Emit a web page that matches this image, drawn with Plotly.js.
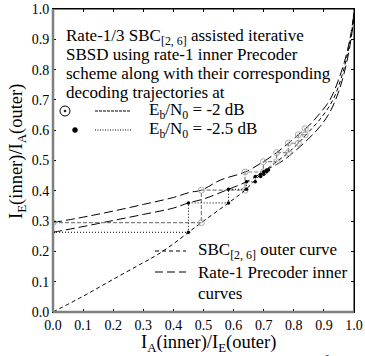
<!DOCTYPE html>
<html><head><meta charset="utf-8">
<script src="https://cdn.plot.ly/plotly-3.0.1.min.js"></script>
<style>html,body{margin:0;padding:0;background:#fff}#c{width:365px;height:356px}</style>
</head><body><div id="c"></div>
<script>
// Outer curve SBC[2,6] (x = I_E(outer), y = I_A(outer))
const outerX = [0, 0.1, 0.2, 0.3, 0.345, 0.4, 0.45, 0.493, 0.583, 0.638, 0.699, 0.743, 0.782, 0.815, 0.85, 0.887, 0.93, 0.96, 0.98, 0.993, 1.0];
const outerY = [0, 0.052, 0.108, 0.163, 0.188, 0.225, 0.263, 0.295, 0.36, 0.402, 0.462, 0.496, 0.526, 0.557, 0.595, 0.636, 0.70, 0.78, 0.86, 0.93, 1.0];
// Inner curve Eb/N0 = -2 dB
const inner2X = [0, 0.1, 0.2, 0.3, 0.4, 0.455, 0.493, 0.555, 0.638, 0.699, 0.743, 0.782, 0.815, 0.85, 0.887, 0.92, 0.95, 0.975, 0.99, 1.0];
const inner2Y = [0.295, 0.313, 0.333, 0.355, 0.378, 0.395, 0.402, 0.435, 0.462, 0.496, 0.526, 0.557, 0.585, 0.615, 0.656, 0.70, 0.77, 0.85, 0.92, 0.985];
// Inner curve Eb/N0 = -2.5 dB
const inner25X = [0, 0.1, 0.2, 0.3, 0.4, 0.45, 0.5, 0.583, 0.643, 0.7, 0.72, 0.76, 0.8, 0.85, 0.887, 0.92, 0.95, 0.975, 0.99, 1.0];
const inner25Y = [0.263, 0.282, 0.302, 0.322, 0.343, 0.36, 0.373, 0.405, 0.43, 0.463, 0.475, 0.497, 0.528, 0.573, 0.612, 0.66, 0.73, 0.82, 0.9, 0.97];
// Decoding trajectory -2 dB
const traj2X = [0, 0.493, 0.493, 0.638, 0.638, 0.699, 0.699, 0.743, 0.743, 0.782, 0.782, 0.815, 0.815, 0.838, 0.838];
const traj2Y = [0.295, 0.295, 0.402, 0.402, 0.462, 0.462, 0.496, 0.496, 0.526, 0.526, 0.557, 0.557, 0.585, 0.585, 0.605];
// Decoding trajectory -2.5 dB
const traj25X = [0, 0.45, 0.45, 0.583, 0.583, 0.643, 0.643, 0.672, 0.672, 0.69, 0.69, 0.70, 0.70, 0.71, 0.71, 0.716];
const traj25Y = [0.263, 0.263, 0.36, 0.36, 0.405, 0.405, 0.43, 0.43, 0.447, 0.447, 0.455, 0.455, 0.463, 0.463, 0.469, 0.469];
const tickVals = [0, 0.1, 0.2, 0.3, 0.4, 0.5, 0.6, 0.7, 0.8, 0.9, 1.0];
const tickText = ["0.0","0.1","0.2","0.3","0.4","0.5","0.6","0.7","0.8","0.9","1.0"];

const F = "Liberation Serif";
const traces = [
  {x: outerX, y: outerY, mode: 'lines', line: {color: '#000', width: 1, dash: '4px,3px', shape: 'spline'}},
  {x: inner2X, y: inner2Y, mode: 'lines', line: {color: '#000', width: 1, dash: '9px,4px', shape: 'spline'}},
  {x: inner25X, y: inner25Y, mode: 'lines', line: {color: '#000', width: 1, dash: '9px,4px', shape: 'spline'}},
  {x: traj2X, y: traj2Y, mode: 'lines+markers', line: {color: '#808080', width: 1.2, dash: '4px,2px'},
   marker: {symbol: 'circle-open-dot', size: 6, color: '#aaa', line: {width: 1}}},
  {x: traj25X, y: traj25Y, mode: 'lines+markers', line: {color: '#000', width: 1, dash: '1px,2px'},
   marker: {symbol: 'circle', size: 3.5, color: '#000'}}
];

// helpers for pixel placement
const L = 53, R = 354, T = 9, B = 312;
const px = v => (v - L) / (R - L);
const py = v => (B - v) / (B - T);

const ann = [];
function txt(t, x, y, size, anchor, angle) {
  ann.push({text: t, x: px(x), y: py(y), xref: 'paper', yref: 'paper', showarrow: false,
    xanchor: anchor || 'left', yanchor: 'middle', textangle: angle || 0,
    font: {family: F, size: size || 17, color: '#000'}});
}
txt("Rate-1/3 SBC<sub>[2, 6]</sub> assisted iterative", 64, 37);
txt("SBSD using rate-1 inner Precoder", 64, 55);
txt("scheme along with their corresponding", 64, 73);
txt("decoding trajectories at", 64, 92);
txt("E<sub>b</sub>/N<sub>0</sub> = -2 dB", 147, 111);
txt("E<sub>b</sub>/N<sub>0</sub> = -2.5 dB", 147, 130);
txt("SBC<sub>[2, 6]</sub> outer curve", 196, 251);
txt("Rate-1 Precoder inner", 196, 272);
txt("curves", 196, 293);
// axis titles
txt("I<sub>A</sub>(inner)/I<sub>E</sub>(outer)", 208, 343, 18.5, 'center');
txt("I<sub>E</sub>(inner)/I<sub>A</sub>(outer)", 17, 152, 18.5, 'center', -90);
// clipped caption below the figure
txt("EXIT charts and the decoding trajectories of the", 182, 363, 18, 'center');

const shapes = [
  {type: 'line', xref: 'paper', yref: 'paper', x0: 0, x1: 1, y0: 1, y1: 1, line: {color: '#000', width: 1}},
  {type: 'line', xref: 'paper', yref: 'paper', x0: 1, x1: 1, y0: 0, y1: 1, line: {color: '#000', width: 1}},
  {type: 'line', xref: 'paper', yref: 'paper', x0: 0, x1: 0, y0: 0, y1: 1, line: {color: '#808080', width: 2.5}},
  {type: 'line', xref: 'paper', yref: 'paper', x0: 0, x1: 1, y0: 0, y1: 0, line: {color: '#808080', width: 2.5}},
  {type: 'line', xref: 'paper', yref: 'paper', x0: px(95), x1: px(131), y0: py(111), y1: py(111), line: {color: '#000', width: 1, dash: '3px,1px'}},
  {type: 'line', xref: 'paper', yref: 'paper', x0: px(95), x1: px(131), y0: py(130), y1: py(130), line: {color: '#000', width: 1, dash: '1px,1.5px'}},
  {type: 'circle', xref: 'paper', yref: 'paper', x0: px(60), x1: px(70), y0: py(106), y1: py(116), line: {color: '#000', width: 1}},
  {type: 'circle', xref: 'paper', yref: 'paper', x0: px(64), x1: px(66), y0: py(110), y1: py(112), fillcolor: '#000', line: {color: '#000', width: 0.5}},
  {type: 'circle', xref: 'paper', yref: 'paper', x0: px(72.5), x1: px(77.5), y0: py(127.5), y1: py(132.5), fillcolor: '#000', line: {color: '#000', width: 0.5}},
  {type: 'line', xref: 'paper', yref: 'paper', x0: px(155), x1: px(186), y0: py(251), y1: py(251), line: {color: '#000', width: 1, dash: '4px,3px'}},
  {type: 'line', xref: 'paper', yref: 'paper', x0: px(155), x1: px(186), y0: py(272), y1: py(272), line: {color: '#000', width: 1, dash: '8px,4px'}}
];

const axisCommon = {
  range: [0, 1], tickvals: tickVals, ticktext: tickText, ticks: 'inside', ticklen: 3, tickwidth: 1, tickcolor: '#000',
  showline: true, linecolor: '#000', linewidth: 1, mirror: 'ticks', showgrid: false, zeroline: false,
  tickfont: {family: F, size: 14, color: '#000'}, fixedrange: true
};

const layout = {
  width: 365, height: 356,
  margin: {l: L, r: 365 - R, t: T, b: 356 - B},
  paper_bgcolor: '#fff', plot_bgcolor: '#fff', showlegend: false,
  xaxis: Object.assign({}, axisCommon),
  yaxis: Object.assign({}, axisCommon),
  annotations: ann, shapes: shapes
};
Plotly.newPlot('c', traces, layout, {staticPlot: true, displayModeBar: false});
</script></body></html>
